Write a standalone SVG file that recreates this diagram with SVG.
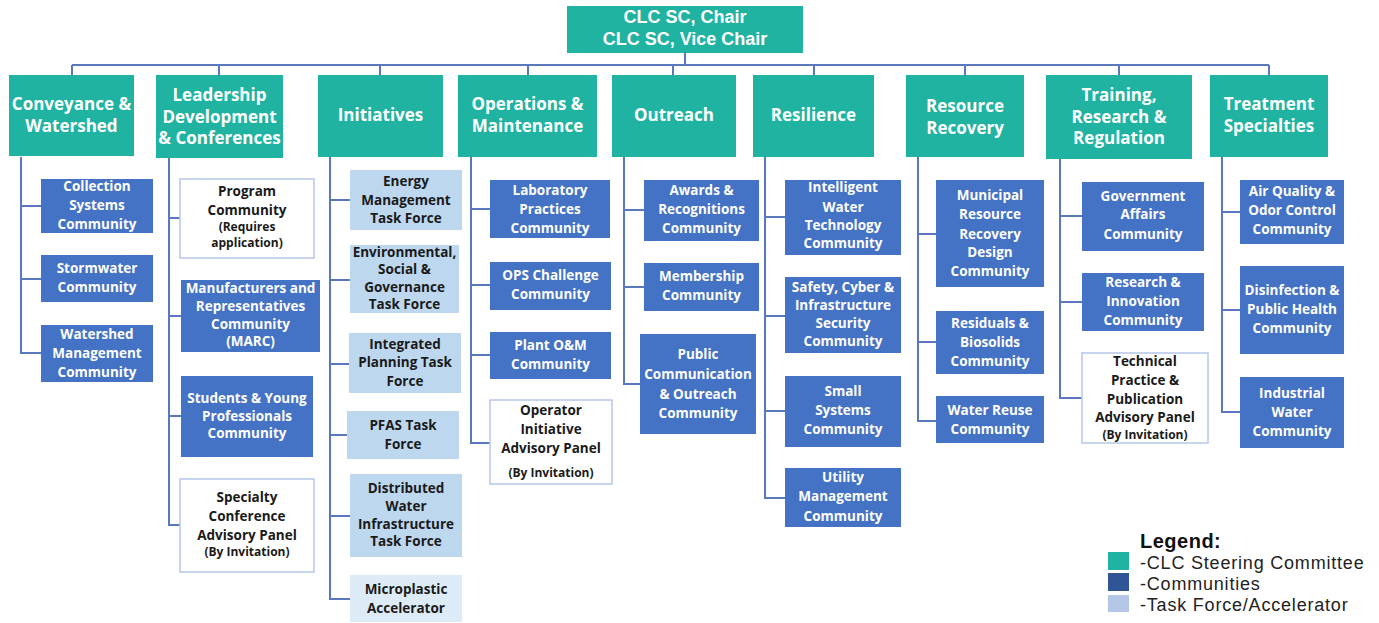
<svg xmlns="http://www.w3.org/2000/svg" width="1379" height="623" viewBox="0 0 1379 623">
<style>
.h{fill:#20B3A1}
.c{fill:#4472C4}
.t{fill:#BDD7EE}
.m{fill:#DDEBF7}
.w{fill:#fff;stroke:#B4C7E7;stroke-width:1.5}
text{font-family:"Open Sans","Liberation Sans",sans-serif;font-weight:700;text-anchor:middle}
.ht{fill:#fff;font-size:17px}
.tt{fill:#fff;font-family:"Liberation Sans",sans-serif;font-size:18px}
.ct{fill:#fff;font-size:13.5px}
.dt{fill:#1a1a1a;font-size:13.5px}
.sm{fill:#1a1a1a;font-size:12px}
.ln{fill:none;stroke:#5A78BE;stroke-width:2}
.lg{fill:#222;font-family:"Liberation Sans",sans-serif;font-size:18px;font-weight:400;letter-spacing:0.8px;text-anchor:start}
</style>
<g id="connectors" class="ln">
<path d="M685 53V65M72 65H1269M72 65V75M219 65V75M380 65V75M528 65V75M673 65V75M814 65V75M965 65V75M1119 65V75M1269 65V75"/>
<path d="M21 157V353H41M21 206H41M21 279H41"/>
<path d="M169 158V525H180M169 218H180M169 316H181M169 416H181"/>
<path d="M330 157V599H350M330 200H350M330 280H350M330 364H349M330 435H347M330 516H350"/>
<path d="M471 157V443H490M471 209H490M471 285H490M471 355H490"/>
<path d="M624 157V384H640M624 210H644M624 287H644"/>
<path d="M765 157V498H785M765 217H785M765 316H785M765 411H785"/>
<path d="M918 157V421H936M918 234H936M918 342H936"/>
<path d="M1060 159V398H1082M1060 216H1082M1060 302H1082"/>
<path d="M1222 157V412H1240M1222 212H1240M1222 310H1240"/>
</g>
<g id="chair"><rect class="h" x="567" y="6" width="236" height="47"/><text class="tt" x="685" y="22.5">CLC SC, Chair</text><text class="tt" x="685" y="44.5">CLC SC, Vice Chair</text></g>
<g id="h-conveyance"><rect class="h" x="9" y="75" width="125" height="81"/><text class="ht" x="71.5" y="110">Conveyance &amp;</text><text class="ht" x="71.5" y="132">Watershed</text></g>
<g id="h-leadership"><rect class="h" x="156" y="75" width="127" height="83"/><text class="ht" x="219.5" y="101">Leadership</text><text class="ht" x="219.5" y="123">Development</text><text class="ht" x="219.5" y="144">&amp; Conferences</text></g>
<g id="h-initiatives"><rect class="h" x="318" y="75" width="125" height="82"/><text class="ht" x="380.5" y="121">Initiatives</text></g>
<g id="h-operations"><rect class="h" x="458" y="75" width="139" height="82"/><text class="ht" x="527.5" y="110">Operations &amp;</text><text class="ht" x="527.5" y="132">Maintenance</text></g>
<g id="h-outreach"><rect class="h" x="612" y="75" width="124" height="82"/><text class="ht" x="674" y="121">Outreach</text></g>
<g id="h-resilience"><rect class="h" x="753" y="75" width="121" height="82"/><text class="ht" x="813.5" y="121">Resilience</text></g>
<g id="h-resource"><rect class="h" x="906" y="75" width="118" height="82"/><text class="ht" x="965" y="112">Resource</text><text class="ht" x="965" y="134">Recovery</text></g>
<g id="h-training"><rect class="h" x="1046" y="75" width="146" height="84"/><text class="ht" x="1119" y="101">Training,</text><text class="ht" x="1119" y="123">Research &amp;</text><text class="ht" x="1119" y="144">Regulation</text></g>
<g id="h-treatment"><rect class="h" x="1210" y="75" width="118" height="82"/><text class="ht" x="1269" y="110">Treatment</text><text class="ht" x="1269" y="132">Specialties</text></g>

<g id="collection"><rect class="c" x="41" y="179" width="112" height="54"/><text class="ct" x="97" y="190.5">Collection</text><text class="ct" x="97" y="209.5">Systems</text><text class="ct" x="97" y="228.5">Community</text></g>
<g id="stormwater"><rect class="c" x="41" y="255" width="112" height="47"/><text class="ct" x="97" y="272.5">Stormwater</text><text class="ct" x="97" y="291.5">Community</text></g>
<g id="watershed"><rect class="c" x="41" y="325" width="112" height="57"/><text class="ct" x="97" y="338.5">Watershed</text><text class="ct" x="97" y="357.5">Management</text><text class="ct" x="97" y="376.5">Community</text></g>

<g id="program"><rect class="w" x="180" y="179" width="134" height="79"/><text class="dt" x="247" y="195.5">Program</text><text class="dt" x="247" y="214.5">Community</text><text class="sm" x="247" y="231">(Requires</text><text class="sm" x="247" y="247">application)</text></g>
<g id="marc"><rect class="c" x="181" y="280" width="139" height="72"/><text class="ct" x="250.5" y="292.5">Manufacturers and</text><text class="ct" x="250.5" y="310.5">Representatives</text><text class="ct" x="250.5" y="328.5">Community</text><text class="ct" x="250.5" y="345.5">(MARC)</text></g>
<g id="students"><rect class="c" x="181" y="376" width="132" height="81"/><text class="ct" x="247" y="402.5">Students &amp; Young</text><text class="ct" x="247" y="420.5">Professionals</text><text class="ct" x="247" y="437.5">Community</text></g>
<g id="specialty"><rect class="w" x="180" y="479" width="134" height="93"/><text class="dt" x="247" y="501.5">Specialty</text><text class="dt" x="247" y="520.5">Conference</text><text class="dt" x="247" y="539.5">Advisory Panel</text><text class="sm" x="247" y="556">(By Invitation)</text></g>

<g id="energy"><rect class="t" x="350" y="170" width="112" height="60"/><text class="dt" x="406" y="185.5">Energy</text><text class="dt" x="406" y="204.5">Management</text><text class="dt" x="406" y="222.5">Task Force</text></g>
<g id="esg"><rect class="t" x="350" y="245" width="109" height="68"/><text class="dt" x="404.5" y="256.5">Environmental,</text><text class="dt" x="404.5" y="273.5">Social &amp;</text><text class="dt" x="404.5" y="291.5">Governance</text><text class="dt" x="404.5" y="308.5">Task Force</text></g>
<g id="integrated"><rect class="t" x="349" y="333" width="112" height="60"/><text class="dt" x="405" y="348.5">Integrated</text><text class="dt" x="405" y="366.5">Planning Task</text><text class="dt" x="405" y="385.5">Force</text></g>
<g id="pfas"><rect class="t" x="347" y="411" width="112" height="48"/><text class="dt" x="403" y="429.5">PFAS Task</text><text class="dt" x="403" y="448.5">Force</text></g>
<g id="distributed"><rect class="t" x="350" y="474" width="112" height="83"/><text class="dt" x="406" y="492.5">Distributed</text><text class="dt" x="406" y="510.5">Water</text><text class="dt" x="406" y="528.5">Infrastructure</text><text class="dt" x="406" y="545.5">Task Force</text></g>
<g id="microplastic"><rect class="m" x="350" y="575" width="112" height="47"/><text class="dt" x="406" y="593.5">Microplastic</text><text class="dt" x="406" y="612.5">Accelerator</text></g>

<g id="laboratory"><rect class="c" x="490" y="180" width="120" height="58"/><text class="ct" x="550" y="194.5">Laboratory</text><text class="ct" x="550" y="213.5">Practices</text><text class="ct" x="550" y="232.5">Community</text></g>
<g id="ops"><rect class="c" x="490" y="262" width="121" height="48"/><text class="ct" x="550.5" y="279.5">OPS Challenge</text><text class="ct" x="550.5" y="298.5">Community</text></g>
<g id="plant"><rect class="c" x="490" y="332" width="121" height="47"/><text class="ct" x="550.5" y="349.5">Plant O&amp;M</text><text class="ct" x="550.5" y="368.5">Community</text></g>
<g id="operator"><rect class="w" x="490" y="400" width="122" height="84"/><text class="dt" x="551" y="414.5">Operator</text><text class="dt" x="551" y="433.5">Initiative</text><text class="dt" x="551" y="452.5">Advisory Panel</text><text class="sm" x="551" y="477">(By Invitation)</text></g>

<g id="awards"><rect class="c" x="644" y="180" width="115" height="61"/><text class="ct" x="701.5" y="194.5">Awards &amp;</text><text class="ct" x="701.5" y="213.5">Recognitions</text><text class="ct" x="701.5" y="232.5">Community</text></g>
<g id="membership"><rect class="c" x="644" y="263" width="115" height="48"/><text class="ct" x="701.5" y="280.5">Membership</text><text class="ct" x="701.5" y="299.5">Community</text></g>
<g id="public"><rect class="c" x="640" y="334" width="116" height="100"/><text class="ct" x="698" y="358.5">Public</text><text class="ct" x="698" y="378.5">Communication</text><text class="ct" x="698" y="398.5">&amp; Outreach</text><text class="ct" x="698" y="417.5">Community</text></g>

<g id="intelligent"><rect class="c" x="785" y="180" width="116" height="75"/><text class="ct" x="843" y="191.5">Intelligent</text><text class="ct" x="843" y="211.5">Water</text><text class="ct" x="843" y="229.5">Technology</text><text class="ct" x="843" y="247.5">Community</text></g>
<g id="safety"><rect class="c" x="785" y="277" width="116" height="76"/><text class="ct" x="843" y="291.5">Safety, Cyber &amp;</text><text class="ct" x="843" y="309.5">Infrastructure</text><text class="ct" x="843" y="327.5">Security</text><text class="ct" x="843" y="345.5">Community</text></g>
<g id="small"><rect class="c" x="785" y="376" width="116" height="71"/><text class="ct" x="843" y="395.5">Small</text><text class="ct" x="843" y="414.5">Systems</text><text class="ct" x="843" y="433.5">Community</text></g>
<g id="utility"><rect class="c" x="785" y="468" width="116" height="59"/><text class="ct" x="843" y="481.5">Utility</text><text class="ct" x="843" y="500.5">Management</text><text class="ct" x="843" y="520.5">Community</text></g>

<g id="municipal"><rect class="c" x="936" y="180" width="108" height="107"/><text class="ct" x="990" y="199.5">Municipal</text><text class="ct" x="990" y="218.5">Resource</text><text class="ct" x="990" y="238.5">Recovery</text><text class="ct" x="990" y="256.5">Design</text><text class="ct" x="990" y="275.5">Community</text></g>
<g id="residuals"><rect class="c" x="936" y="311" width="108" height="63"/><text class="ct" x="990" y="327.5">Residuals &amp;</text><text class="ct" x="990" y="346.5">Biosolids</text><text class="ct" x="990" y="365.5">Community</text></g>
<g id="reuse"><rect class="c" x="936" y="396" width="108" height="47"/><text class="ct" x="990" y="414.5">Water Reuse</text><text class="ct" x="990" y="433.5">Community</text></g>

<g id="government"><rect class="c" x="1082" y="182" width="122" height="69"/><text class="ct" x="1143" y="200.5">Government</text><text class="ct" x="1143" y="218.5">Affairs</text><text class="ct" x="1143" y="238.5">Community</text></g>
<g id="research"><rect class="c" x="1082" y="273" width="122" height="58"/><text class="ct" x="1143" y="286.5">Research &amp;</text><text class="ct" x="1143" y="305.5">Innovation</text><text class="ct" x="1143" y="324.5">Community</text></g>
<g id="technical"><rect class="w" x="1082" y="353" width="126" height="90"/><text class="dt" x="1145" y="365.5">Technical</text><text class="dt" x="1145" y="384.5">Practice &amp;</text><text class="dt" x="1145" y="403.5">Publication</text><text class="dt" x="1145" y="421.5">Advisory Panel</text><text class="sm" x="1145" y="439">(By Invitation)</text></g>

<g id="air"><rect class="c" x="1240" y="180" width="104" height="64"/><text class="ct" x="1292" y="195.5">Air Quality &amp;</text><text class="ct" x="1292" y="214.5">Odor Control</text><text class="ct" x="1292" y="233.5">Community</text></g>
<g id="disinfection"><rect class="c" x="1240" y="266" width="104" height="88"/><text class="ct" x="1292" y="294.5">Disinfection &amp;</text><text class="ct" x="1292" y="313.5">Public Health</text><text class="ct" x="1292" y="332.5">Community</text></g>
<g id="industrial"><rect class="c" x="1240" y="377" width="104" height="71"/><text class="ct" x="1292" y="397.5">Industrial</text><text class="ct" x="1292" y="416.5">Water</text><text class="ct" x="1292" y="435.5">Community</text></g>

<g id="legend">
<text x="1140" y="548" style="font-family:'Liberation Sans',sans-serif;font-size:20px;fill:#111;text-anchor:start;letter-spacing:0.5px">Legend:</text>
<rect x="1108" y="552" width="21" height="18" fill="#20B3A1"/>
<rect x="1108" y="573" width="21" height="18" fill="#2F5597"/>
<rect x="1108" y="595" width="21" height="17" fill="#B4C7E7"/>
<text class="lg" x="1140" y="569">-CLC Steering Committee</text>
<text class="lg" x="1140" y="590">-Communities</text>
<text class="lg" x="1140" y="611">-Task Force/Accelerator</text>
</g>
</svg>
